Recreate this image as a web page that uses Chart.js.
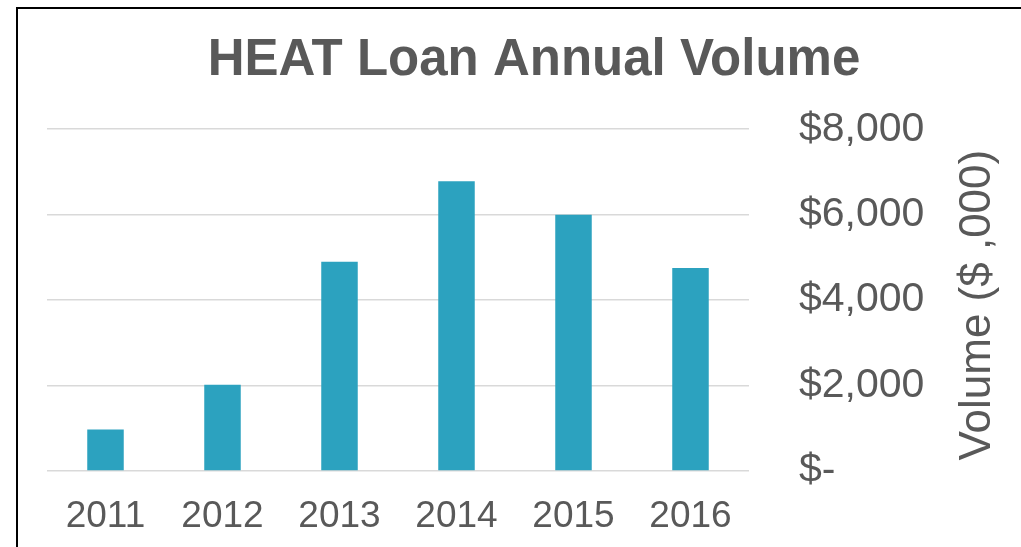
<!DOCTYPE html>
<html>
<head>
<meta charset="utf-8">
<title>HEAT Loan Annual Volume</title>
<script src="https://cdn.jsdelivr.net/npm/chart.js@4/dist/chart.umd.min.js"></script>
<style>
  html, body { margin: 0; padding: 0; background: #fff; overflow: hidden; }
  #wrap { position: relative; width: 1021px; height: 547px; }
  #frame {
    position: absolute; left: 16px; top: 7px; right: -10px; bottom: -10px;
    border-left: 2px solid #000; border-top: 2px solid #000;
    pointer-events: none;
  }
</style>
</head>
<body>
<div id="wrap">
  <canvas id="volumeChart" width="1021" height="547"></canvas>
  <div id="frame"></div>
</div>
<script>
const years = ["2011", "2012", "2013", "2014", "2015", "2016"];
const volumes = [970, 2020, 4900, 6780, 6000, 4750];
const yTicks = [0, 2000, 4000, 6000, 8000];
const axisTitle = "Volume ($ ,000)";

const textGray = "#595959";
const barColor = "#2CA2BF";
const fontFamily = '"Liberation Sans", Arial, sans-serif';

// the axis title reads bottom-to-top on the right, chart.js would rotate it the other way
const rightAxisTitle = {
  id: "rightAxisTitle",
  afterDraw(chart) {
    const c = chart.ctx;
    const area = chart.chartArea;
    c.save();
    c.translate(chart.scales.y.right - 43, (area.top + area.bottom) / 2 + 5);
    c.rotate(-Math.PI / 2);
    c.font = "44px " + fontFamily;
    c.fillStyle = textGray;
    c.textAlign = "center";
    c.textBaseline = "middle";
    c.fillText(axisTitle, 0, 0);
    c.restore();
  },
};

const ctx = document.getElementById("volumeChart").getContext("2d");

const volumeChart = new Chart(ctx, {
  type: "bar",
  data: {
    labels: years,
    datasets: [
      {
        label: "Volume",
        data: volumes,
        backgroundColor: barColor,
        borderWidth: 0,
        barPercentage: 0.312,
        categoryPercentage: 1,
      },
    ],
  },
  options: {
    responsive: false,
    animation: false,
    layout: {
      padding: { left: 47, right: 0, top: 0, bottom: 0 },
    },
    scales: {
      x: {
        grid: { display: false, drawTicks: false },
        border: { display: false },
        ticks: {
          color: textGray,
          padding: 24,
          font: { family: fontFamily, size: 37 },
          maxRotation: 0,
        },
        afterFit: function (scale) {
          scale.height = 76;
        },
      },
      y: {
        position: "right",
        min: 0,
        max: 8000,
        afterBuildTicks: function (scale) {
          scale.ticks = yTicks.map((v) => ({ value: v }));
        },
        grid: { color: "#D9D9D9", lineWidth: 1.5, drawTicks: false },
        border: { display: false },
        ticks: {
          color: textGray,
          padding: 50,
          font: { family: fontFamily, size: 41 },
          callback: function (value) {
            return value === 0 ? "$-" : "$" + value.toLocaleString("en-US");
          },
        },
        afterFit: function (scale) {
          scale.width = 272;
        },
      },
    },
    plugins: {
      legend: { display: false },
      tooltip: { enabled: false },
      title: {
        display: true,
        text: "HEAT Loan Annual Volume",
        color: textGray,
        font: { family: fontFamily, size: 51, weight: "bold" },
        padding: { top: 30, bottom: 38 },
      },
    },
  },
  plugins: [rightAxisTitle],
});
</script>
</body>
</html>
